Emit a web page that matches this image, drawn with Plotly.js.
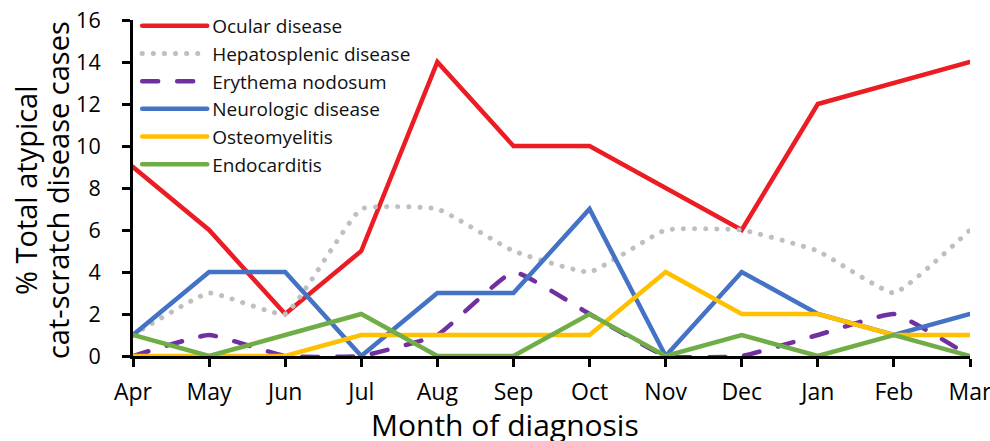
<!DOCTYPE html>
<html>
<head>
<meta charset="utf-8">
<script src="https://cdn.plot.ly/plotly-3.0.1.min.js"></script>
<style>
html,body{margin:0;padding:0;background:#fff;}
#chart{width:990px;height:441px;}
#chart path.js-line{stroke-linecap:round !important;}
</style>
</head>
<body>
<div id="chart"></div>
<script>
const months = ["Apr","May","Jun","Jul","Aug","Sep","Oct","Nov","Dec","Jan","Feb","Mar"];
const ocular = [9,6,2,5,14,10,10,8,6,12,13,14];
const hepatosplenic = [1,3,2,7,7,5,4,6,6,5,3,6];
const erythema = [0,1,0,0,1,4,2,0,0,1,2,0];
const neurologic = [1,4,4,0,3,3,7,0,4,2,1,2];
const osteomyelitis = [0,0,0,1,1,1,1,4,2,2,1,1];
const endocarditis = [1,0,1,2,0,0,2,0,1,0,1,0];
const yTicks = [0,2,4,6,8,10,12,14,16];
const yTitleLines = ["% Total atypical", "cat-scratch disease cases"];
const xTitle = "Month of diagnosis";

const FONT = "'Open Sans', Lato, sans-serif";
const idx = months.map((m,i)=>i);

function tr(name, y, color, dash, shape, width){
  return {x: idx, y: y, name: name, type: 'scatter', mode: 'lines',
    line: {color: color, width: width || 4.5, dash: dash, shape: shape, smoothing: 0.35},
    cliponaxis: false, hoverinfo: 'skip'};
}
const traces = [
  tr("Ocular disease", ocular, "#EC1C24", "solid", "linear"),
  tr("Hepatosplenic disease", hepatosplenic, "#BFBFBF", "0.1px,11px", "spline", 5),
  tr("Erythema nodosum", erythema, "#7030A0", "16px,19px", "spline"),
  tr("Neurologic disease", neurologic, "#4472C4", "solid", "linear"),
  tr("Osteomyelitis", osteomyelitis, "#FFC000", "solid", "linear"),
  tr("Endocarditis", endocarditis, "#70AD47", "solid", "linear")
];

const layout = {
  width: 990, height: 441,
  margin: {l: 133, r: 20, t: 20, b: 85, autoexpand: false},
  paper_bgcolor: '#fff', plot_bgcolor: '#fff',
  font: {family: FONT, color: '#000', size: 20},
  showlegend: true,
  legend: {x: 0.005, y: 1.039, xanchor: 'left', yanchor: 'top',
    bgcolor: 'rgba(0,0,0,0)', font: {family: FONT, size: 19, color: '#111'},
    itemwidth: 65, tracegroupgap: 0},
  xaxis: {
    range: [0, 11], tickvals: idx, ticktext: months,
    showgrid: false, zeroline: false, showline: true, linecolor: '#000', linewidth: 3,
    ticks: 'outside', ticklen: 8, tickwidth: 3, tickcolor: '#000',
    tickfont: {family: FONT, size: 23, color: '#000'}, ticklabelstandoff: 5,
    ticklabeloverflow: 'allow',
    layer: 'below traces'
  },
  yaxis: {
    range: [0, 16], tickvals: yTicks,
    showgrid: false, zeroline: false, showline: true, linecolor: '#000', linewidth: 3,
    ticks: 'outside', ticklen: 8, tickwidth: 3, tickcolor: '#000',
    tickfont: {family: FONT, size: 21.5, color: '#000'}, ticklabelstandoff: 17,
    layer: 'below traces'
  },
  annotations: [
    {text: yTitleLines[0], xref: 'paper', yref: 'paper', x: -0.129, y: 0.494,
     xanchor: 'center', yanchor: 'middle', textangle: -90, showarrow: false,
     font: {family: FONT, size: 29, color: '#000'}},
    {text: yTitleLines[1], xref: 'paper', yref: 'paper', x: -0.0908, y: 0.494,
     xanchor: 'center', yanchor: 'middle', textangle: -90, showarrow: false,
     font: {family: FONT, size: 29, color: '#000'}},
    {text: xTitle, xref: 'paper', yref: 'paper', x: 0.4444, y: 0, yshift: -91,
     xanchor: 'center', yanchor: 'bottom', showarrow: false,
     font: {family: FONT, size: 30, color: '#000'}}
  ]
};

Plotly.newPlot('chart', traces, layout, {displayModeBar: false, staticPlot: true});
</script>
</body>
</html>
